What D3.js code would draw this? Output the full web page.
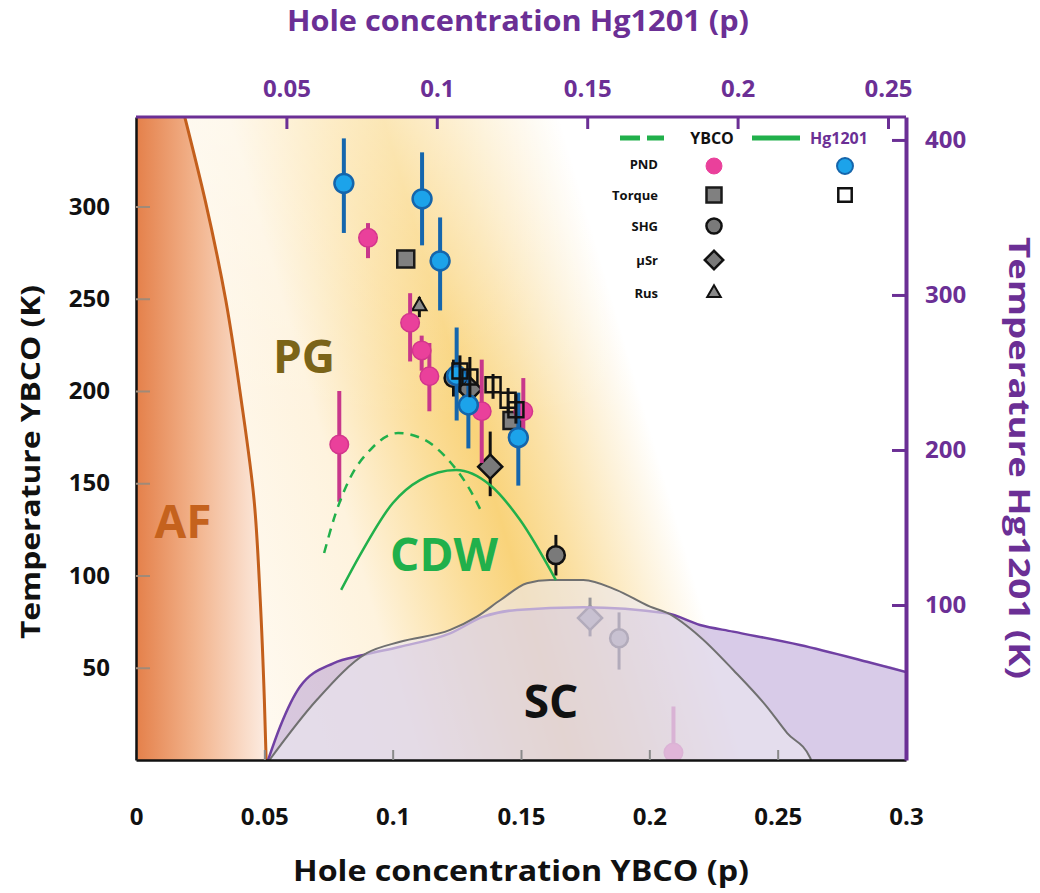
<!DOCTYPE html>
<html><head><meta charset="utf-8">
<script src="https://cdn.jsdelivr.net/npm/d3@7"></script>
<style>
body{margin:0;background:#fff}
svg{display:block}
text{font-family:'Open Sans',sans-serif;font-weight:700}
</style>
</head><body>
<svg id="c" width="1040" height="893"></svg>
<script>
// ---------------- DATA ----------------
// tick values
const xTicksYBCO = [0, 0.05, 0.1, 0.15, 0.2, 0.25, 0.3];
const xTicksHg = [0.05, 0.1, 0.15, 0.2, 0.25];
const yTicksYBCO = [50, 100, 150, 200, 250, 300];
const yTicksHg = [100, 200, 300, 400];

// points: [p, T, Tlow, Thigh]
const ybcoPND = [[0.0904,283,272,291],[0.1068,237,216,253],[0.1113,222,211,230],[0.1143,208,189,226],
                 [0.0792,171,140,200],[0.1347,189,161,217],[0.1509,189,179,207],[0.2094,4,4,29]];
const hgPND = [[0.0691,372,340,401],[0.0951,362,332,392],[0.1011,322,290,350],
               [0.1066,248,219,279],[0.1105,229,201,248],[0.1271,208,177,237]];
const ybcoTorque = [[0.1051,271.5,271.5,271.5],[0.1465,184,184,184]];
const hgTorque = [[0.1077,251,237,261],[0.1110,247,234,260],[0.1187,242,233,249],
                  [0.1237,232,224,240],[0.1263,226,217,236]];
const ybcoSHG = [[0.1237,207,197,217],[0.1636,111,100,122],[0.1882,66,49,80]];
const ybcoMuSR = [[0.130,201,190,212],[0.138,159,143,178],[0.1769,77,67,88]];
const ybcoRUS = [[0.1104,246,240,251]];

// curves: [p, T]
const afLine = [[0.019,348.5],[0.027,303],[0.035,249],[0.041,195],[0.046,141],[0.0484,87],[0.050,33],[0.0507,0]];
const scYBCO = [[0.052,0],[0.0704,32.5],[0.0899,57.9],[0.1029,64.1],[0.1224,70.5],[0.1328,77.7],[0.142,86.7],
                [0.1523,95.8],[0.1613,97.6],[0.1743,97.6],[0.1873,92.1],[0.2003,83.1],[0.207,79.7],
                [0.2198,66.7],[0.2327,48.8],[0.2459,28.7],[0.2537,14.6],[0.2627,1.1],[0.263,0]];
const scHg = [[0.0439,0],[0.0479,21.5],[0.0545,47.3],[0.0656,62.4],[0.0756,67.7],[0.0878,73.1],[0.1044,81.7],
              [0.1155,92.5],[0.1266,96.8],[0.1487,98.5],[0.1764,94.6],[0.1875,87.1],[0.1985,82.8],
              [0.2207,74.2],[0.243,63.4],[0.256,56.8]];
const cdwYBCO = [[0.0733,112.2],[0.0776,132.8],[0.0834,152.8],[0.0912,168],[0.1021,177.2],[0.1126,173.4],
                 [0.1224,161.5],[0.1302,146.3],[0.1352,132.8]];
const cdwHg = [[0.0682,109.7],[0.0745,132.3],[0.0854,165.8],[0.0944,180.6],[0.1064,187.1],[0.1177,177.4],
               [0.1277,154.8],[0.1396,116.1]];

const legendRows = ["PND", "Torque", "SHG", "μSr", "Rus"];

// ---------------- LAYOUT ----------------
const L = 136, R = 906, T = 117, B = 760;
const purple = "#6b2f95", green = "#21b04b";
const xY = d3.scaleLinear([0, 0.3], [L, R]);
const xH = d3.scaleLinear([0, 0.25], [L, 888]);
const yY = d3.scaleLinear([0, 348.5], [B, T]);
const yH = d3.scaleLinear([0, 414.8], [B, T]);

const svg = d3.select("#c");
const defs = svg.append("defs");
defs.append("clipPath").attr("id", "plot").append("rect")
  .attr("x", L).attr("y", T).attr("width", R - L).attr("height", B - T);

const bg = defs.append("linearGradient").attr("id", "pg").attr("gradientUnits", "userSpaceOnUse")
  .attr("x1", 153).attr("y1", 470).attr("x2", 652).attr("y2", 324);
[[0, "#fffbf5"], [0.33, "#fef3de"], [0.52, "#fbdd98"], [0.615, "#f9d37a"], [0.73, "#fbe1a6"], [0.85, "#fdf2da"], [0.94, "#ffffff"], [1, "#ffffff"]]
  .forEach(([o, c]) => bg.append("stop").attr("offset", o).attr("stop-color", c));

const fade = defs.append("linearGradient").attr("id", "fade").attr("gradientUnits", "userSpaceOnUse")
  .attr("x1", 0).attr("y1", T).attr("x2", 0).attr("y2", 420);
[[0, 0.45], [1, 0]].forEach(([o, a]) => fade.append("stop").attr("offset", o).attr("stop-color", "#fff").attr("stop-opacity", a));

const af = defs.append("linearGradient").attr("id", "afg").attr("gradientUnits", "userSpaceOnUse")
  .attr("x1", L).attr("y1", 0).attr("x2", 268).attr("y2", 0);
[[0, "#e4804a"], [0.45, "#f2b38c"], [1, "#fdeee4"]]
  .forEach(([o, c]) => af.append("stop").attr("offset", o).attr("stop-color", c));

const plot = svg.append("g").attr("clip-path", "url(#plot)");
plot.append("rect").attr("x", L).attr("y", T).attr("width", R - L).attr("height", B - T).attr("fill", "url(#pg)");
plot.append("rect").attr("x", L).attr("y", T).attr("width", R - L).attr("height", 303).attr("fill", "url(#fade)");

// AF region
plot.append("path").datum(afLine)
  .attr("d", d3.area().curve(d3.curveMonotoneY).y(d => yY(d[1])).x0(L).x1(d => xY(d[0])))
  .attr("fill", "url(#afg)");
plot.append("path").datum(afLine)
  .attr("d", d3.line().curve(d3.curveMonotoneY).x(d => xY(d[0])).y(d => yY(d[1])))
  .attr("fill", "none").attr("stroke", "#c35f1c").attr("stroke-width", 3);

// bottom axis (ticks inside, under domes)
const bAxis = svg.append("g").attr("transform", `translate(0,${B})`)
  .call(d3.axisBottom(xY).tickValues(xTicksYBCO).tickSizeInner(-10).tickSizeOuter(0).tickPadding(48).tickFormat(d => d));
bAxis.select(".domain").attr("stroke", "#111").attr("stroke-width", 2.5);
bAxis.selectAll(".tick line").attr("stroke", "#8a8a8a").attr("stroke-width", 2);
bAxis.selectAll(".tick text").attr("font-size", 24).attr("fill", "#111");

// markers
function errBars(g, data, x, y, color, w) {
  g.selectAll(null).data(data.filter(d => d[3] > d[2])).join("line")
    .attr("x1", d => x(d[0])).attr("x2", d => x(d[0]))
    .attr("y1", d => y(d[2])).attr("y2", d => y(d[3]))
    .attr("stroke", color).attr("stroke-width", w);
}
const pts = plot.append("g");
function symbolSet(data, x, y, type, size, fill, stroke, sw, rot, barColor, barW) {
  const g = pts.append("g");
  errBars(g, data, x, y, barColor, barW);
  g.selectAll(null).data(data).join("path")
    .attr("d", d3.symbol().type(type).size(size))
    .attr("transform", d => `translate(${x(d[0])},${y(d[1])}) rotate(${rot})`)
    .attr("fill", fill).attr("stroke", stroke).attr("stroke-width", sw);
}
symbolSet(ybcoSHG, xY, yY, d3.symbolCircle, 250, "#7a7a7a", "#111", 2.5, 0, "#111", 3);
symbolSet(ybcoMuSR, xY, yY, d3.symbolSquare, 290, "#7a7a7a", "#111", 2.5, 45, "#111", 3);
symbolSet(ybcoTorque, xY, yY, d3.symbolSquare, 289, "#808080", "#1a1a1a", 2.5, 0, "#111", 3);
symbolSet(ybcoRUS, xY, yY, d3.symbolTriangle, 90, "#8a8a8a", "#111", 2, 0, "#111", 3);
symbolSet(ybcoPND, xY, yY, d3.symbolCircle, 270, "#ea409b", "#d3358c", 1.5, 0, "#c8378b", 4);
symbolSet(hgPND, xH, yH, d3.symbolCircle, 280, "#1ca3ea", "#1565ab", 2.5, 0, "#1566ad", 4);
symbolSet(hgTorque, xH, yH, d3.symbolSquare, 225, "none", "#111", 2.5, 0, "#111", 3);

// SC domes
const scHgArea = scHg.concat([[0.256, 0]]);
plot.append("path").datum(scHgArea)
  .attr("d", d3.area().curve(d3.curveMonotoneX).x(d => xH(d[0])).y0(B).y1(d => yH(d[1])))
  .attr("fill", "rgba(168,140,205,0.45)");
plot.append("path").datum(scHg)
  .attr("d", d3.line().curve(d3.curveMonotoneX).x(d => xH(d[0])).y(d => yH(d[1])))
  .attr("fill", "none").attr("stroke", "#7040a3").attr("stroke-width", 2.5);
plot.append("path").datum(scYBCO)
  .attr("d", d3.area().curve(d3.curveMonotoneX).x(d => xY(d[0])).y0(B).y1(d => yY(d[1])))
  .attr("fill", "rgba(236,233,241,0.62)");
plot.append("path").datum(scYBCO)
  .attr("d", d3.line().curve(d3.curveMonotoneX).x(d => xY(d[0])).y(d => yY(d[1])))
  .attr("fill", "none").attr("stroke", "#707070").attr("stroke-width", 2);

// CDW
plot.append("path").datum(cdwYBCO)
  .attr("d", d3.line().curve(d3.curveMonotoneX).x(d => xY(d[0])).y(d => yY(d[1])))
  .attr("fill", "none").attr("stroke", green).attr("stroke-width", 2.5).attr("stroke-dasharray", "9,7");
plot.append("path").datum(cdwHg)
  .attr("d", d3.line().curve(d3.curveMonotoneX).x(d => xH(d[0])).y(d => yH(d[1])))
  .attr("fill", "none").attr("stroke", green).attr("stroke-width", 2.5);

// region labels
const regions = [["AF", 183, 520, "#c5621d"], ["PG", 304, 355, "#7b6418"], ["CDW", 444, 553, green], ["SC", 551, 700, "#111"]];
svg.selectAll(null).data(regions).join("text")
  .attr("x", d => d[1]).attr("y", d => d[2]).attr("text-anchor", "middle").attr("dominant-baseline", "central")
  .attr("font-size", 46).attr("fill", d => d[3]).text(d => d[0]);

// axes
const lAxis = svg.append("g").attr("transform", `translate(${L},0)`)
  .call(d3.axisLeft(yY).tickValues(yTicksYBCO).tickSizeInner(-14).tickSizeOuter(0).tickPadding(26));
lAxis.select(".domain").attr("stroke", "#111").attr("stroke-width", 2.5);
lAxis.selectAll(".tick line").attr("stroke", "#a08a78").attr("stroke-width", 2);
lAxis.selectAll(".tick text").attr("font-size", 24).attr("fill", "#111");

const tAxis = svg.append("g").attr("transform", `translate(0,${T})`)
  .call(d3.axisTop(xH).tickValues(xTicksHg).tickSizeInner(-12).tickSizeOuter(0).tickPadding(20).tickFormat(d => d));
tAxis.select(".domain").attr("d", `M${L},0H${R}`).attr("stroke", purple).attr("stroke-width", 3);
tAxis.selectAll(".tick line").attr("stroke", purple).attr("stroke-width", 3);
tAxis.selectAll(".tick text").attr("font-size", 24).attr("fill", purple);

const rAxis = svg.append("g").attr("transform", `translate(${R},0)`)
  .call(d3.axisRight(yH).tickValues(yTicksHg).tickSizeInner(-14).tickSizeOuter(0).tickPadding(19));
rAxis.select(".domain").attr("stroke", purple).attr("stroke-width", 4);
rAxis.selectAll(".tick line").attr("stroke", purple).attr("stroke-width", 3);
rAxis.selectAll(".tick text").attr("font-size", 24).attr("fill", purple);

// titles
function title(tr, size, len, color, str) {
  svg.append("text").attr("transform", tr).attr("text-anchor", "middle").attr("dominant-baseline", "central")
    .attr("font-size", size).attr("fill", color)
    .attr("textLength", len).attr("lengthAdjust", "spacingAndGlyphs").text(str);
}
title("translate(518,20)", 28, 462, purple, "Hole concentration Hg1201 (p)");
title("translate(521,870)", 28, 456, "#111", "Hole concentration YBCO (p)");
title("translate(30,462) rotate(-90)", 26, 354, "#111", "Temperature YBCO (K)");
title("translate(1020,458) rotate(90)", 28, 442, purple, "Temperature Hg1201 (K)");

// legend
const lg = svg.append("g");
lg.append("line").attr("x1", 620).attr("x2", 664).attr("y1", 138).attr("y2", 138)
  .attr("stroke", green).attr("stroke-width", 5).attr("stroke-dasharray", "20,7");
lg.append("text").attr("x", 712).attr("y", 138).attr("text-anchor", "middle").attr("dominant-baseline", "central")
  .attr("font-size", 16).attr("fill", "#111").text("YBCO");
lg.append("line").attr("x1", 752).attr("x2", 800).attr("y1", 138).attr("y2", 138)
  .attr("stroke", green).attr("stroke-width", 5);
lg.append("text").attr("x", 810).attr("y", 138).attr("dominant-baseline", "central")
  .attr("font-size", 16).attr("fill", purple).text("Hg1201");
const rowY = [164, 195, 226, 260, 293];
lg.selectAll(null).data(legendRows).join("text")
  .attr("x", 658).attr("y", (d, i) => rowY[i]).attr("text-anchor", "end").attr("dominant-baseline", "central")
  .attr("font-size", 13).attr("fill", "#111").text(d => d);
const legSyms = [
  [714, 0, d3.symbolCircle, 200, "#ea409b", "#ea409b", 1, 0],
  [845, 0, d3.symbolCircle, 200, "#1ca3ea", "#1565ab", 2, 0],
  [714, 1, d3.symbolSquare, 225, "#808080", "#1a1a1a", 2.5, 0],
  [845, 1, d3.symbolSquare, 180, "#fff", "#111", 2.5, 0],
  [714, 2, d3.symbolCircle, 180, "#7a7a7a", "#111", 2.5, 0],
  [714, 3, d3.symbolSquare, 170, "#7a7a7a", "#111", 2.5, 45],
  [714, 4, d3.symbolTriangle, 80, "#8a8a8a", "#111", 2, 0]
];
lg.selectAll(null).data(legSyms).join("path")
  .attr("d", d => d3.symbol().type(d[2]).size(d[3])())
  .attr("transform", d => `translate(${d[0]},${rowY[d[1]] + (d[1] === 0 ? 2 : 0)}) rotate(${d[7]})`)
  .attr("fill", d => d[4]).attr("stroke", d => d[5]).attr("stroke-width", d => d[6]);
</script>
</body></html>
